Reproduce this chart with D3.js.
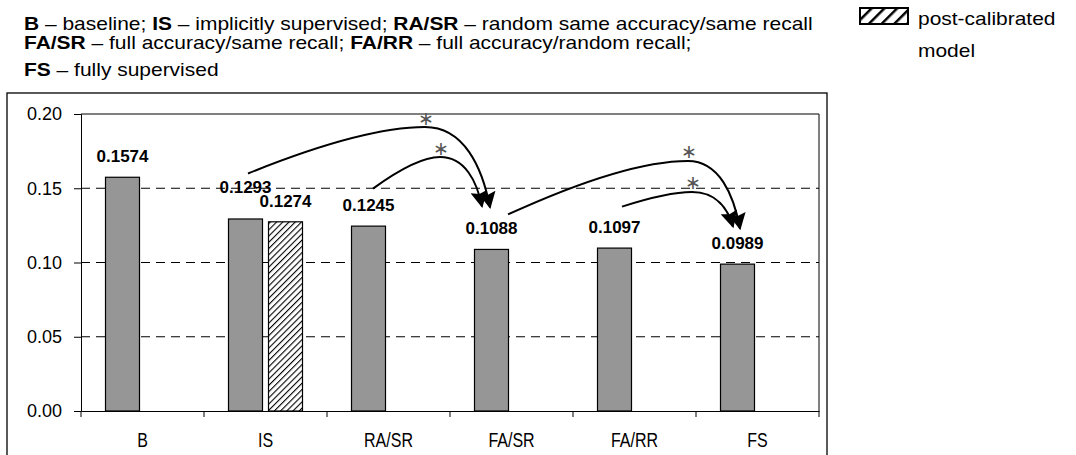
<!DOCTYPE html>
<html>
<head>
<meta charset="utf-8">
<script src="https://cdn.jsdelivr.net/npm/d3@7"></script>
<style>
  html, body { margin: 0; padding: 0; background: #fff; }
  svg text { font-family: "Liberation Sans", Arial, sans-serif; }
</style>
</head>
<body>
<svg id="chart" width="1076" height="455"></svg>
<script>
// Error rates per supervision setting
const categories = ["B", "IS", "RA/SR", "FA/SR", "FA/RR", "FS"];
const modelValues = [0.1574, 0.1293, 0.1245, 0.1088, 0.1097, 0.0989];
// Post-calibrated model only exists for the implicitly supervised setting
const calibratedValues = [null, 0.1274, null, null, null, null];
const yTicks = [0.00, 0.05, 0.10, 0.15, 0.20];

// Significant improvements (marked with an asterisk)
const significanceFrom = ["IS", "RA/SR", "FA/SR", "FA/RR"];
const significanceTo   = ["FA/SR", "FA/SR", "FS", "FS"];
const significancePeak = [0.1912, 0.1710, 0.1684, 0.1475];

const legendLines = [
  [["B", true], [" \u2013 baseline; ", false], ["IS", true], [" \u2013 implicitly supervised; ", false], ["RA/SR", true], [" \u2013 random same accuracy/same recall", false]],
  [["FA/SR", true], [" \u2013 full accuracy/same recall; ", false], ["FA/RR", true], [" \u2013 full accuracy/random recall;", false]],
  [["FS", true], [" \u2013 fully supervised", false]]
];
const keyLines = ["post-calibrated", "model"];

const svg = d3.select("#chart");

// Layout
const frame = { left: 7, top: 93, right: 827, bottom: 454 };
const plot = { left: 81, top: 114, right: 819, bottom: 411 };
const barWidth = 34, barGap = 6;
const labelFont = 17;
const labelLift = [15, 26, 15, 15, 15, 15];
const calibratedLift = 15;
const textStretch = 1.165;

const x = d3.scaleBand().domain(categories).range([plot.left, plot.right]).padding(0);
const x1 = d3.scaleBand().domain(["model", "calibrated"])
  .range([x.bandwidth() / 2 - barWidth - barGap / 2, x.bandwidth() / 2 + barWidth + barGap / 2])
  .paddingInner(barGap / (barWidth + barGap));
const y = d3.scaleLinear().domain([0, 0.20]).range([plot.bottom, plot.top]);

// Hatch patterns: fine for bars, coarse for the legend key
const defs = svg.append("defs");
function hatch(id, size, width) {
  const p = defs.append("pattern").attr("id", id)
    .attr("patternUnits", "userSpaceOnUse").attr("width", size).attr("height", size)
    .attr("patternTransform", "rotate(45)");
  p.append("rect").attr("width", size).attr("height", size).attr("fill", "#fff");
  p.append("line").attr("x1", 0).attr("y1", 0).attr("x2", 0).attr("y2", size)
    .attr("stroke", "#000").attr("stroke-width", width);
}
hatch("hatch", 4.4, 2.2);
hatch("hatchKey", 9, 5);

defs.append("marker").attr("id", "arrowHead")
  .attr("viewBox", "0 0 10 10").attr("refX", 9).attr("refY", 5)
  .attr("markerUnits", "userSpaceOnUse")
  .attr("markerWidth", 21).attr("markerHeight", 17).attr("orient", "auto")
  .append("path").attr("d", "M0,0 L10,5 L0,10 L1.5,5 Z").attr("fill", "#000");

// Abbreviation key at the top
const legend = svg.append("g");
const lineBaselines = [30, 49, 76];
legendLines.forEach((parts, i) => {
  const t = legend.append("text")
    .attr("transform", `translate(24,${lineBaselines[i]}) scale(${textStretch},1)`)
    .attr("font-size", 18).attr("fill", "#000");
  parts.forEach(([s, bold]) => {
    t.append("tspan").attr("font-weight", bold ? "bold" : "normal").text(s);
  });
});

// Key for the hatched series
svg.append("rect").attr("x", 860).attr("y", 8).attr("width", 48).attr("height", 16)
  .attr("fill", "url(#hatchKey)").attr("stroke", "#000").attr("stroke-width", 2);
keyLines.forEach((s, i) => {
  svg.append("text")
    .attr("transform", `translate(918,${[25, 57][i]}) scale(${textStretch},1)`)
    .attr("font-size", 18).text(s);
});

// Chart frame
svg.append("rect").attr("x", frame.left).attr("y", frame.top)
  .attr("width", frame.right - frame.left).attr("height", frame.bottom - frame.top + 10)
  .attr("fill", "none").attr("stroke", "#000").attr("stroke-width", 1.3);

// Gridlines
svg.append("g").selectAll("line").data(yTicks.filter(d => d > 0 && d < 0.20)).join("line")
  .attr("x1", plot.left).attr("x2", plot.right)
  .attr("y1", d => y(d)).attr("y2", d => y(d))
  .attr("stroke", "#000").attr("stroke-width", 1).attr("stroke-dasharray", "9,6");

// Plot area border (top and right)
svg.append("path")
  .attr("d", `M${plot.left},${plot.top}H${plot.right}V${plot.bottom}`)
  .attr("fill", "none").attr("stroke", "#000").attr("stroke-width", 1);

// Bars
const barData = categories.map((c, i) => ({ c, v: modelValues[i], lift: labelLift[i] }));
svg.append("g").selectAll("rect").data(barData).join("rect")
  .attr("x", d => x(d.c) + x1("model"))
  .attr("width", x1.bandwidth())
  .attr("y", d => y(d.v)).attr("height", d => y(0) - y(d.v))
  .attr("fill", "#969696").attr("stroke", "#000").attr("stroke-width", 1.2);

const calData = categories.map((c, i) => ({ c, v: calibratedValues[i] })).filter(d => d.v != null);
svg.append("g").selectAll("rect").data(calData).join("rect")
  .attr("x", d => x(d.c) + x1("calibrated"))
  .attr("width", x1.bandwidth())
  .attr("y", d => y(d.v)).attr("height", d => y(0) - y(d.v))
  .attr("fill", "url(#hatch)").attr("stroke", "#000").attr("stroke-width", 1.2);

// Value labels
svg.append("g").selectAll("text").data(barData).join("text")
  .attr("x", d => x(d.c) + x1("model") + x1.bandwidth() / 2)
  .attr("y", d => y(d.v) - d.lift)
  .attr("text-anchor", "middle").attr("font-weight", "bold").attr("font-size", labelFont)
  .text(d => d.v.toFixed(4));
svg.append("g").selectAll("text").data(calData).join("text")
  .attr("x", d => x(d.c) + x1("calibrated") + x1.bandwidth() / 2)
  .attr("y", d => y(d.v) - calibratedLift)
  .attr("text-anchor", "middle").attr("font-weight", "bold").attr("font-size", labelFont)
  .text(d => d.v.toFixed(4));

// Axes
const yAxis = d3.axisLeft(y).tickValues(yTicks).tickSize(7).tickPadding(12).tickFormat(d3.format(".2f"));
const gy = svg.append("g").attr("transform", `translate(${plot.left},0)`).call(yAxis);
gy.select(".domain").attr("stroke", "#000");
gy.selectAll("text").attr("font-size", 18).attr("font-family", "Liberation Sans, Arial, sans-serif");

const gx = svg.append("g").attr("transform", `translate(0,${plot.bottom})`)
  .call(d3.axisBottom(x).tickSize(0).tickPadding(22));
gx.select(".domain").attr("stroke", "#000");
// category names are set tall and narrow
gx.selectAll(".tick text").attr("font-size", 20).attr("transform", "scale(0.8,1)")
  .attr("font-family", "Liberation Sans, Arial, sans-serif");
// tick marks at category boundaries
gx.append("g").selectAll("line").data(categories.concat([null])).join("line")
  .attr("x1", (d, i) => plot.left + i * x.step()).attr("x2", (d, i) => plot.left + i * x.step())
  .attr("y1", 0).attr("y2", 6).attr("stroke", "#000");

// Significance arrows: rise from the source label, level off, then drop onto the target label
const labelPos = c => {
  const i = categories.indexOf(c);
  return { cx: x(c) + x1("model") + x1.bandwidth() / 2, top: y(modelValues[i]) - labelLift[i] - 12.5 };
};
const startNudge = [[2.5, -7], [4.5, -10], [16.5, -7.5], [7.5, -14]];
const endNudge = [[-1.5, -14.5], [-9.5, -15.5], [2.5, -8], [-4.5, -10]];
const peakBack = [65, 42, 52, 41];
significanceFrom.forEach((from, k) => {
  const a = labelPos(from), b = labelPos(significanceTo[k]);
  const s = [a.cx + startNudge[k][0], a.top + startNudge[k][1]];
  const e = [b.cx + endNudge[k][0], b.top + endNudge[k][1]];
  const p = [e[0] - peakBack[k], y(significancePeak[k])];
  const c1 = [p[0] - (p[0] - s[0]) * 0.35, p[1]];
  const c2 = [p[0] + (e[0] - p[0]) * 0.6, p[1]];
  const c3 = [e[0] - (e[0] - p[0]) * 0.12, e[1] - (e[1] - p[1]) * 0.5];
  const path = d3.path();
  path.moveTo(s[0], s[1]);
  path.quadraticCurveTo(c1[0], c1[1], p[0], p[1]);
  path.bezierCurveTo(c2[0], c2[1], c3[0], c3[1], e[0], e[1]);
  svg.append("path").attr("d", path.toString())
    .attr("fill", "none").attr("stroke", "#000").attr("stroke-width", 2)
    .attr("marker-end", "url(#arrowHead)");
  svg.append("text").attr("x", p[0] + 1).attr("y", p[1] - 9)
    .attr("text-anchor", "middle").attr("dominant-baseline", "central")
    .attr("font-size", 19).attr("fill", "#555")
    .attr("font-family", "DejaVu Sans").attr("font-weight", "200").text("\u2217");
});
</script>
</body>
</html>
